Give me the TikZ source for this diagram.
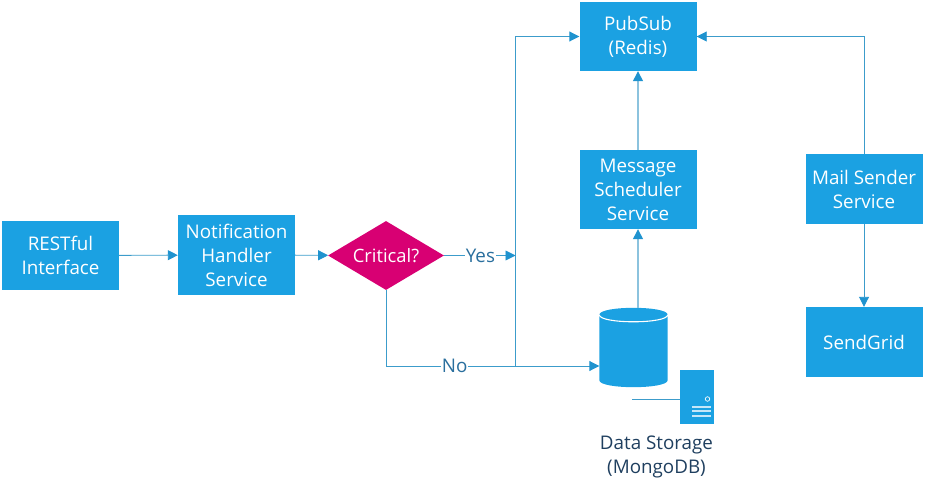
\documentclass[tikz,border=0pt]{standalone}
\usepackage{fontspec}
\setmainfont{Open Sans}
\usetikzlibrary{arrows.meta, shapes.geometric}

\definecolor{boxblue}{HTML}{1BA1E2}
\definecolor{lineblue}{HTML}{3C9CCB}
\definecolor{softblue}{HTML}{8CC3DE}
\definecolor{headblue}{HTML}{1F93CF}
\definecolor{critpink}{HTML}{D80073}
\definecolor{labblue}{HTML}{2A6F9E}
\definecolor{capblue}{HTML}{1F3F5F}

\tikzset{
  svc/.style={rectangle,fill=boxblue,text=white,inner sep=0pt,minimum width=117pt,align=center,font=\fontsize{18.8}{24}\selectfont},
  flow/.style={draw=lineblue,line width=0.9pt,-{Triangle[length=10pt,width=10pt,color=headblue]}},
  softflow/.style={flow,draw=softblue,line width=1.3pt},
  plain/.style={draw=lineblue,line width=0.9pt},
  lab/.style={fill=white,text=labblue,inner sep=1pt,font=\fontsize{18.8}{24}\selectfont}
}

\begin{document}
\begin{tikzpicture}[x=1pt,y=-1pt]
\useasboundingbox (0,0) rectangle (933,489);

\node[svc,minimum height=69pt] (rest) at (60.5,255.5) {RESTful\\Interface};
\node[svc,minimum height=80pt] (handler) at (236.5,255) {Notification\\Handler\\Service};
\node[diamond,aspect=1.68,fill=critpink,text=white,inner sep=0pt,minimum width=116pt,minimum height=69pt,font=\fontsize{18.4}{24}\selectfont] (critical) at (386,255.5) {Critical?};
\node[svc,minimum height=69pt] (pubsub) at (638,36.5) {PubSub\\(Redis)};
\node[svc,minimum height=79pt] (scheduler) at (638,189.5) {Message\\Scheduler\\Service};
\node[svc,minimum height=70pt] (mailer) at (864,189) {Mail Sender\\Service};
\node[svc,minimum height=70pt] (sendgrid) at (864,342) {SendGrid};

%the data store
\node[rectangle,inner sep=0pt,minimum width=68pt,minimum height=79pt] (store) at (633.5,347.5) {};
\fill[boxblue] ([yshift=-7pt]store.north west) .. controls +(0,-9.3) and +(0,-9.3) .. ([yshift=-7pt]store.north east)
  -- ([yshift=7pt]store.south east) .. controls +(0,9.3) and +(0,9.3) .. ([yshift=7pt]store.south west) -- cycle;
\draw[white,line width=1.1pt] ([yshift=-7pt]store.north west) .. controls +(0,9.3) and +(0,9.3) .. ([yshift=-7pt]store.north east);

%the small server
\node[rectangle,fill=boxblue,inner sep=0pt,minimum width=34pt,minimum height=54pt] (server) at (697,397) {};
\node[circle,draw=white,line width=0.7pt,inner sep=0pt,minimum size=4.5pt] (led) at (707.5,399) {};
\node[rectangle,fill=white!75!boxblue,inner sep=0pt,minimum width=19pt,minimum height=2pt] (slota) at (701.5,406.5) {};
\node[rectangle,fill=white!75!boxblue,inner sep=0pt,minimum width=19pt,minimum height=2pt] (slotb) at (701.5,411) {};
\node[rectangle,fill=white!75!boxblue,inner sep=0pt,minimum width=19pt,minimum height=2pt] (slotc) at (701.5,415.5) {};
\coordinate (serverend) at (632,399);
\draw[plain] (server.west |- serverend) -- (serverend);

\node[align=center,text=capblue,inner sep=0pt,font=\fontsize{18.8}{24}\selectfont] (caption) at (656.5,456.5) {Data Storage\\(MongoDB)};

%the bus
\coordinate (bustop) at (515.5,36.5);
\coordinate (busjoin) at (515.5,255.5);
\coordinate (busbot) at (515.5,366);
\coordinate (nocorner) at (386,366);

\draw[flow] (rest) -- (handler);
\draw[flow] (handler) -- (critical);
\draw[flow] (critical) -- node[lab,pos=0.508] (yes) {Yes} (busjoin);
\draw[plain] (critical.south) -- (nocorner) -- node[lab,pos=0.53] (no) {No} (busbot);
\draw[flow] (busbot) -- (store.west |- busbot);
\draw[flow] (busbot) -- (bustop) -- (pubsub.west |- bustop);

\draw[softflow] (store.north -| scheduler) -- (scheduler.south);
\draw[softflow] (scheduler) -- (pubsub);
\draw[flow] (mailer.north) -- (mailer.north |- pubsub) -- (pubsub.east);
\draw[flow] (mailer) -- (sendgrid);

\end{tikzpicture}
\end{document}
